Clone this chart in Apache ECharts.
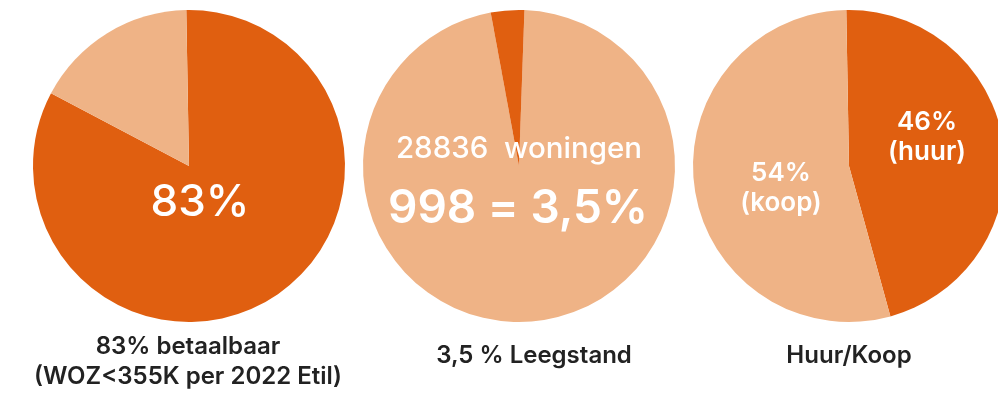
<!DOCTYPE html>
<html>
<head>
<meta charset="utf-8">
<script src="https://cdn.jsdelivr.net/npm/echarts@6/dist/echarts.min.js"></script>
<style>
  html, body { margin: 0; padding: 0; background: #ffffff; }
  #chart { width: 998px; height: 393px; }
</style>
</head>
<body>
<div id="chart"></div>
<script>
// Betaalbaarheid (WOZ < 355K, 2022 Etil)
const affordableNames = ['betaalbaar', 'niet betaalbaar'];
const affordableValues = [83, 17];

// Leegstand
const totalHomes = 28836;
const vacantHomes = 998;
const vacancyNames = ['bewoond', 'leeg'];
const vacancyValues = [totalHomes - vacantHomes, vacantHomes];

// Huur / koop
const tenureNames = ['huur', 'koop'];
const tenureValues = [46, 54];

const captions = [
  '83% betaalbaar\n(WOZ<355K per 2022 Etil)',
  '3,5 % Leegstand',
  'Huur/Koop'
];

const DARK = '#E05F10';
const LIGHT = '#EFB386';
const FONT = 'Inter, "Noto Sans", sans-serif';

function slices(names, values, colors) {
  return names.map((n, i) => ({ name: n, value: values[i], itemStyle: { color: colors[i] } }));
}

function pct(v, total) {
  return (v / total * 100).toFixed(1).replace('.', ',').replace(/,0$/, '');
}

const pieBase = {
  type: 'pie',
  radius: 156,
  clockwise: true,
  silent: true,
  label: { show: false },
  labelLine: { show: false },
  emphasis: { disabled: true },
  itemStyle: { borderWidth: 0 },
  animation: false
};

const affTotal = affordableValues.reduce((a, b) => a + b, 0);
const tenTotal = tenureValues.reduce((a, b) => a + b, 0);

function txt(x, y, text, size, weight, color, lineHeight) {
  return {
    type: 'text',
    x: x, y: y,
    z: 100,
    silent: true,
    style: {
      text: text,
      fill: color,
      fontFamily: FONT,
      fontSize: size,
      fontWeight: weight,
      textAlign: 'center',
      textVerticalAlign: 'middle',
      lineHeight: lineHeight || Math.round(size * 1.2)
    }
  };
}

const chart = echarts.init(document.getElementById('chart'), null, { renderer: 'canvas' });
chart.setOption({
  animation: false,
  backgroundColor: '#ffffff',
  series: [
    Object.assign({}, pieBase, {
      center: [189, 166],
      startAngle: 91,
      data: slices(affordableNames, affordableValues, [DARK, LIGHT])
    }),
    Object.assign({}, pieBase, {
      center: [519, 166],
      startAngle: 88,
      data: slices(vacancyNames, vacancyValues, [LIGHT, DARK])
    }),
    Object.assign({}, pieBase, {
      center: [849, 166],
      startAngle: 91,
      data: slices(tenureNames, tenureValues, [DARK, LIGHT])
    })
  ],
  graphic: {
    elements: [
      txt(200, 203, Math.round(affordableValues[0] / affTotal * 100) + '%', 44, 500, '#ffffff'),
      txt(519, 149, totalHomes + '  woningen', 29.5, 500, '#ffffff'),
      txt(518, 209, vacantHomes + ' = ' + pct(vacantHomes, totalHomes) + '%', 46, 600, '#ffffff'),
      txt(927, 137, Math.round(tenureValues[0] / tenTotal * 100) + '%\n(' + tenureNames[0] + ')', 26, 600, '#ffffff', 30),
      txt(781, 188, Math.round(tenureValues[1] / tenTotal * 100) + '%\n(' + tenureNames[1] + ')', 26, 600, '#ffffff', 30),
      txt(188, 362, captions[0], 24, 600, '#222222', 30),
      txt(534, 356, captions[1], 24, 600, '#222222'),
      txt(849, 356, captions[2], 24, 600, '#222222')
    ]
  }
});
</script>
</body>
</html>
